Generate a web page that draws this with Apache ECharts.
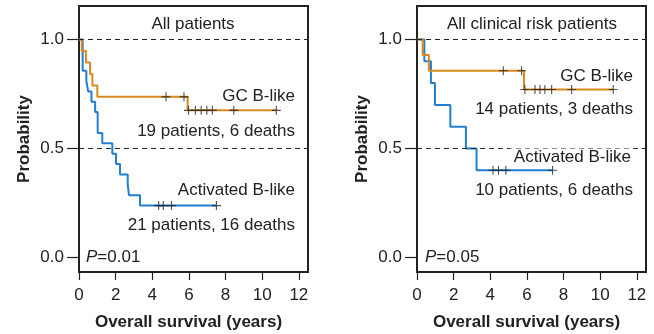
<!DOCTYPE html>
<html>
<head>
<meta charset="utf-8">
<script src="https://cdn.jsdelivr.net/npm/echarts@6/dist/echarts.min.js"></script>
<style>
html,body{margin:0;padding:0;background:#fff;}
#c{width:654px;height:334px;}
</style>
</head>
<body>
<div id="c"></div>
<script>
// ---- data ----
const xTicks = [0, 2, 4, 6, 8, 10, 12];
const yTicks = [0, 0.5, 1.0];

// Left panel: All patients
const leftGCTimes = [0, 0.15, 0.38, 0.60, 0.73, 1.00, 5.93];
const leftGCSurv  = [1, 0.947, 0.895, 0.842, 0.789, 0.737, 0.675];
const leftGCEnd = 10.77;
const leftGCCensor = [4.75, 5.73, 5.98, 6.35, 6.67, 6.98, 7.28, 8.45, 10.77];

const leftABTimes = [0, 0.20, 0.40, 0.50, 0.68, 0.88, 1.02, 1.27, 1.82, 2.02, 2.24, 2.66, 2.73, 3.33];
const leftABSurv  = [1, 0.857, 0.810, 0.762, 0.714, 0.667, 0.571, 0.524, 0.476, 0.429, 0.381, 0.333, 0.286, 0.238];
const leftABEnd = 7.5;
const leftABCensor = [4.35, 4.6, 5.05, 7.5];

// Right panel: All clinical risk patients
const rightGCTimes = [0, 0.31, 0.65, 5.84];
const rightGCSurv  = [1, 0.929, 0.857, 0.771];
const rightGCEnd = 10.71;
const rightGCCensor = [4.71, 5.71, 5.89, 6.44, 6.71, 6.98, 7.35, 8.44, 10.71];

const rightABTimes = [0, 0.40, 0.76, 0.98, 1.82, 2.67, 3.25];
const rightABSurv  = [1, 0.9, 0.8, 0.7, 0.6, 0.5, 0.4];
const rightABEnd = 7.4;
const rightABCensor = [4.15, 4.45, 4.85, 7.4];

// ---- helpers ----
const ORANGE = '#D98A1E';
const BLUE = '#1F7FD2';
const INK = '#222';
const FONT = "'Liberation Sans', Arial, sans-serif";

function stepData(times, surv, end) {
  const d = times.map((t, i) => [t, surv[i]]);
  d.push([end, surv[surv.length - 1]]);
  return d;
}
function levelAt(times, surv, t) {
  let s = surv[0];
  for (let i = 0; i < times.length; i++) if (times[i] <= t) s = surv[i];
  return s;
}
function censorData(times, surv, cens) {
  return cens.map(t => [t, levelAt(times, surv, t)]);
}

const plusSym = 'path://M4.4,0h1.2v10h-1.2z M0,4.4h10v1.2h-10z';

function xAxisFor(gi) {
  return {
    gridIndex: gi, type: 'value', min: 0, max: 12.5,
    name: 'Overall survival (years)', nameLocation: 'middle', nameGap: 42,
    nameTextStyle: { fontFamily: FONT, fontSize: 17, fontWeight: 'bold', color: INK, padding: [0, 10, 0, 0] },
    axisLine: { show: true, onZero: false, lineStyle: { color: INK, width: 2 } },
    axisTick: { show: true, customValues: xTicks, length: 8, lineStyle: { color: INK, width: 1.2 } },
    axisLabel: { customValues: xTicks, margin: 15, fontFamily: FONT, fontSize: 17, color: INK },
    splitLine: { show: false }
  };
}
function yAxisFor(gi) {
  return {
    gridIndex: gi, type: 'value', min: -0.0665, max: 1.1537,
    name: 'Probability', nameLocation: 'middle', nameGap: 46, nameRotate: 90,
    nameTextStyle: { fontFamily: FONT, fontSize: 17, fontWeight: 'bold', color: INK },
    axisLine: { show: true, onZero: false, lineStyle: { color: INK, width: 2 } },
    axisTick: { show: true, customValues: yTicks, length: 12, lineStyle: { color: INK, width: 1.2 } },
    axisLabel: { customValues: yTicks, margin: 15, fontFamily: FONT, fontSize: 17, color: INK,
      formatter: v => Number(v).toFixed(1) },
    splitLine: { show: false }
  };
}
function panelSeries(gi, gcT, gcS, gcE, gcC, abT, abS, abE, abC) {
  return [
    {
      type: 'line', xAxisIndex: gi, yAxisIndex: gi, step: 'end', symbol: 'none',
      data: stepData(abT, abS, abE), lineStyle: { color: BLUE, width: 2 }, z: 3,
      markLine: {
        silent: true, symbol: ['none', 'none'], label: { show: false },
        lineStyle: { type: [5, 4], color: INK, width: 1 },
        data: [{ yAxis: 1 }, { yAxis: 0.5 }]
      }
    },
    {
      type: 'line', xAxisIndex: gi, yAxisIndex: gi, step: 'end', symbol: 'none',
      data: stepData(gcT, gcS, gcE), lineStyle: { color: ORANGE, width: 2 }, z: 4
    },
    {
      type: 'scatter', xAxisIndex: gi, yAxisIndex: gi, symbol: plusSym, symbolSize: 9,
      itemStyle: { color: INK }, z: 5,
      data: censorData(gcT, gcS, gcC).concat(censorData(abT, abS, abC))
    }
  ];
}

function txt(x, y, text, align, extra) {
  return {
    type: 'text', x: x, y: y, z: 10,
    style: Object.assign({ text: text, fontFamily: FONT, fontSize: 17, fill: INK,
      textAlign: align, textVerticalAlign: 'middle' }, extra || {})
  };
}
function pText(x, y, val) {
  return {
    type: 'text', x: x, y: y, z: 10,
    style: {
      text: '{i|P}=' + val, fontFamily: FONT, fontSize: 17, fill: INK,
      textAlign: 'left', textVerticalAlign: 'middle',
      rich: { i: { fontStyle: 'italic', fontFamily: FONT, fontSize: 17, fill: INK } }
    }
  };
}

const chart = echarts.init(document.getElementById('c'), null, { renderer: 'canvas' });
chart.setOption({
  animation: false,
  backgroundColor: '#fff',
  grid: [
    { left: 79, top: 6, width: 229, height: 266, show: true, borderColor: INK, borderWidth: 2,
      containLabel: false, outerBoundsMode: 'none' },
    { left: 417, top: 6, width: 229, height: 266, show: true, borderColor: INK, borderWidth: 2,
      containLabel: false, outerBoundsMode: 'none' }
  ],
  xAxis: [xAxisFor(0), xAxisFor(1)],
  yAxis: [yAxisFor(0), yAxisFor(1)],
  series: panelSeries(0, leftGCTimes, leftGCSurv, leftGCEnd, leftGCCensor,
                          leftABTimes, leftABSurv, leftABEnd, leftABCensor)
    .concat(panelSeries(1, rightGCTimes, rightGCSurv, rightGCEnd, rightGCCensor,
                          rightABTimes, rightABSurv, rightABEnd, rightABCensor)),
  graphic: [
    txt(193, 24, 'All patients', 'center'),
    txt(295, 96, 'GC B-like', 'right'),
    txt(295, 131, '19 patients, 6 deaths', 'right'),
    txt(295, 190, 'Activated B-like', 'right'),
    txt(295, 225, '21 patients, 16 deaths', 'right'),
    pText(86, 257, '0.01'),
    txt(532, 24, 'All clinical risk patients', 'center'),
    txt(633, 76, 'GC B-like', 'right'),
    txt(633, 109, '14 patients, 3 deaths', 'right'),
    txt(633, 157, 'Activated B-like', 'right', { backgroundColor: '#fff', padding: [0, 2, 0, 4] }),
    txt(633, 190, '10 patients, 6 deaths', 'right'),
    pText(425, 257, '0.05')
  ]
});
</script>
</body>
</html>
